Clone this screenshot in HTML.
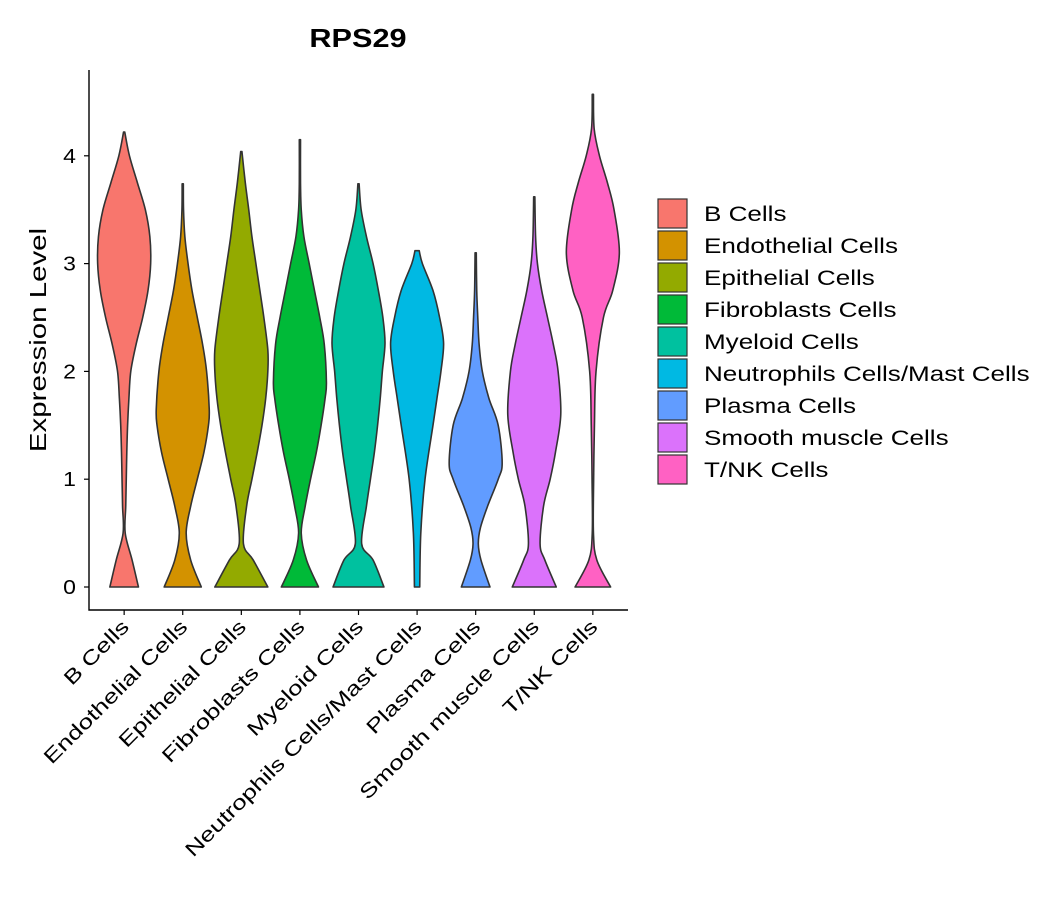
<!DOCTYPE html>
<html><head><meta charset="utf-8"><style>
body{margin:0;background:#fff;width:1057px;height:900px;overflow:hidden}
svg{font-family:"Liberation Sans","DejaVu Sans",sans-serif}
</style></head><body>
<svg id="chart" width="1057" height="900">
<text class="st" data-f="1.18" x="358" y="47" text-anchor="middle" font-size="26" font-weight="bold">RPS29</text>
<text class="st" data-f="1.28" transform="translate(46,340) rotate(-90)" text-anchor="middle" font-size="23">Expression Level</text>
<g id="plot"></g>
<g id="legend"></g>
</svg>
<script>
const categories=["B Cells","Endothelial Cells","Epithelial Cells","Fibroblasts Cells","Myeloid Cells","Neutrophils Cells/Mast Cells","Plasma Cells","Smooth muscle Cells","T/NK Cells"];
const colors=["#F8766D","#D39200","#93AA00","#00BA38","#00C19F","#00B9E3","#619CFF","#DB72FB","#FF61C3"];
const yTicks=[0,1,2,3,4];
const ysB=[0,0.25,0.5,0.75,1,1.25,1.5,1.75,2,2.25,2.5,2.75,3,3.25,3.5,3.75,4,4.22];
const densB=[0.54,0.3,0.04,0.06,0.08,0.1,0.13,0.18,0.25,0.45,0.7,0.9,1,0.97,0.8,0.5,0.2,0.02];
const ysEndo=[0,0.25,0.5,0.75,1,1.25,1.5,1.65,2,2.25,2.5,2.75,3,3.25,3.5,3.74];
const densEndo=[0.7,0.3,0.13,0.3,0.55,0.8,0.97,1,0.9,0.75,0.55,0.35,0.2,0.08,0.03,0.01];
const ysEpi=[0,0.25,0.4,0.75,1,1.25,1.5,1.75,2,2.2,2.5,2.75,3,3.25,3.5,3.75,4.04];
const densEpi=[1,0.45,0.08,0.2,0.4,0.6,0.78,0.92,1,1,0.85,0.7,0.55,0.4,0.28,0.15,0.02];
const ysFib=[0,0.25,0.5,0.75,1,1.25,1.5,1.75,1.9,2.25,2.5,2.75,3,3.25,3.5,3.75,4.15];
const densFib=[0.7,0.25,0.05,0.2,0.4,0.62,0.8,0.95,1,0.92,0.75,0.55,0.35,0.15,0.05,0.02,0.01];
const ysMye=[0,0.25,0.4,0.75,1,1.25,1.5,1.75,2,2.26,2.5,2.75,3,3.25,3.5,3.74];
const densMye=[0.96,0.55,0.12,0.3,0.45,0.6,0.72,0.82,0.9,1,0.92,0.75,0.55,0.3,0.1,0.01];
const ysNeu=[0,0.5,1,1.5,1.75,2,2.26,2.5,2.75,3,3.12];
const densNeu=[0.1,0.14,0.3,0.6,0.75,0.9,1,0.85,0.6,0.2,0.08];
const ysPla=[0,0.25,0.4,0.55,0.75,1,1.15,1.5,1.75,2,2.25,2.5,2.75,3.1];
const densPla=[0.54,0.2,0.1,0.18,0.45,0.85,1,0.85,0.5,0.25,0.13,0.08,0.04,0.01];
const ysSmo=[0,0.25,0.4,0.75,1,1.25,1.6,2,2.25,2.5,2.75,3,3.25,3.62];
const densSmo=[0.83,0.4,0.22,0.35,0.6,0.8,1,0.9,0.72,0.5,0.28,0.12,0.05,0.01];
const ysTNK=[0,0.25,0.5,1,1.5,2,2.5,2.75,3.1,3.5,3.75,4,4.25,4.57];
const densTNK=[0.67,0.15,0.02,0.03,0.06,0.12,0.4,0.75,1,0.8,0.55,0.25,0.05,0.01];
const ysAll=[ysB,ysEndo,ysEpi,ysFib,ysMye,ysNeu,ysPla,ysSmo,ysTNK];
const densAll=[densB,densEndo,densEpi,densFib,densMye,densNeu,densPla,densSmo,densTNK];

const NS="http://www.w3.org/2000/svg";
const X0=89,X1=628,Y0=610,Ytop=70;
const xScale=i=>X0+(i+1-0.4)*(X1-X0)/9.2;
const yScale=v=>587-v*107.8;
const halfMax=26.5;
const plot=document.getElementById('plot');
function mk(tag,attrs,parent){const e=document.createElementNS(NS,tag);for(const k in attrs)e.setAttribute(k,attrs[k]);(parent||plot).appendChild(e);return e;}
function spline(pts){let d=`M${pts[0][0]},${pts[0][1]}`;for(let i=0;i<pts.length-1;i++){const p0=pts[Math.max(0,i-1)],p1=pts[i],p2=pts[i+1],p3=pts[Math.min(pts.length-1,i+2)];const c1=[p1[0]+(p2[0]-p0[0])/6,p1[1]+(p2[1]-p0[1])/6],c2=[p2[0]-(p3[0]-p1[0])/6,p2[1]-(p3[1]-p1[1])/6];d+=` C${c1[0].toFixed(2)},${c1[1].toFixed(2)} ${c2[0].toFixed(2)},${c2[1].toFixed(2)} ${p2[0].toFixed(2)},${p2[1].toFixed(2)}`;}return d;}
categories.forEach((c,i)=>{
  const cx=xScale(i),ys=ysAll[i],ds=densAll[i];
  const right=ys.map((v,k)=>[cx+Math.max(ds[k]*halfMax,0.6),yScale(v)]);
  const left=ys.map((v,k)=>[cx-Math.max(ds[k]*halfMax,0.6),yScale(v)]).reverse();
  let d=spline(right);
  d+=` L${left[0][0]},${left[0][1]}`+spline(left).replace(/^M[^C]*/,' ')+' Z';
  const p=mk('path',{d:d,fill:colors[i],stroke:'#333','stroke-width':1.6,'stroke-linejoin':'round'});
  
  
  const t=mk('line',{x1:cx,x2:cx,y1:Y0,y2:Y0+5,stroke:'#000','stroke-width':1.2});
  
  
  const lb=mk('text',{transform:`translate(${cx+6},${Y0+18}) rotate(-45)`,'text-anchor':'end','font-size':20,'class':'st','data-f':1.3});
  lb.textContent=c;
  
  
});
yTicks.forEach(v=>{
  const y=yScale(v);
  const t=mk('line',{x1:X0-5,x2:X0,y1:y,y2:y,stroke:'#000','stroke-width':1.2});
  
  
  const lb=mk('text',{x:X0-13,y:y+7,'text-anchor':'end','font-size':20,'class':'st','data-f':1.15});
  lb.textContent=v;
  
  
});
const ax=mk('path',{d:`M${X0},${Ytop} L${X0},${Y0} L${X1},${Y0}`,fill:'none',stroke:'#000','stroke-width':1.4});


const lg=document.getElementById('legend');
categories.forEach((c,i)=>{
  const y=199+i*32;
  const r=mk('rect',{x:658,y:y,width:29,height:29,fill:colors[i],stroke:'#333','stroke-width':1.2},lg);
  
  
  const t=mk('text',{x:704,y:y+22,'font-size':21,'class':'st','data-f':1.24},lg);
  t.textContent=c;
  
  
});
document.querySelectorAll('text.st').forEach(t=>{
  const L=t.getComputedTextLength()*parseFloat(t.getAttribute('data-f'));
  t.setAttribute('textLength',L.toFixed(1));
  t.setAttribute('lengthAdjust','spacingAndGlyphs');
});
</script>
</body></html>
